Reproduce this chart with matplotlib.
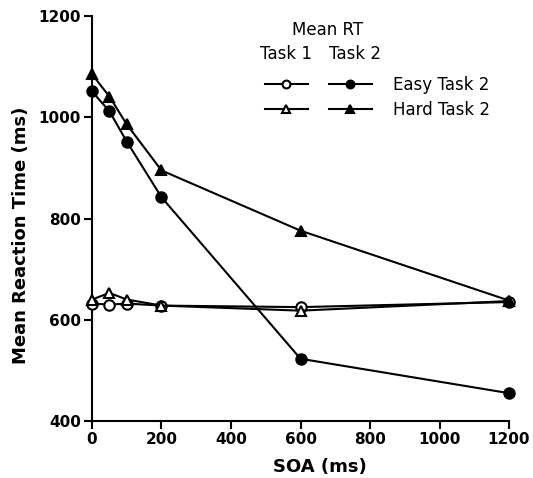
import matplotlib
matplotlib.use("Agg")
import matplotlib.pyplot as plt

plt.rcParams['font.family'] = ['DejaVu Sans']

# SOA values (ms)
soa = [0, 50, 100, 200, 600, 1200]

# Mean RT (ms)
task1_easy = [632, 630, 632, 628, 625, 635]
task1_hard = [640, 653, 640, 628, 618, 637]
task2_easy = [1051, 1012, 952, 842, 523, 455]
task2_hard = [1085, 1041, 986, 895, 776, 638]

xticks = [0, 200, 400, 600, 800, 1000, 1200]
yticks = [400, 600, 800, 1000, 1200]

fig = plt.figure(figsize=(5.33, 4.78), dpi=100)
ax = fig.add_axes([0.1726, 0.1192, 0.7824, 0.8473])

style = dict(color='black', lw=1.5, ms=7.5, mew=1.5, clip_on=False, zorder=3)
h1, = ax.plot(soa, task1_easy, marker='o', mfc='white', **style)
h2, = ax.plot(soa, task1_hard, marker='^', mfc='white', **style)
h3, = ax.plot(soa, task2_easy, marker='o', mfc='black', **style)
h4, = ax.plot(soa, task2_hard, marker='^', mfc='black', **style)

ax.set_xlim(0, 1200)
ax.set_ylim(400, 1200)
ax.set_xticks(xticks)
ax.set_yticks(yticks)
for s in ['top', 'right']:
    ax.spines[s].set_visible(False)
for s in ['left', 'bottom']:
    ax.spines[s].set_linewidth(1.5)
ax.tick_params(direction='out', length=6, width=1.5, labelsize=11, pad=2)
for lab in ax.get_xticklabels() + ax.get_yticklabels():
    lab.set_fontweight('bold')

ax.set_xlabel('SOA (ms)', fontsize=13, fontweight='bold', va='center')
ax.set_ylabel('Mean Reaction Time (ms)', fontsize=13, fontweight='bold',
              va='center', ha='center')
ax.xaxis.set_label_coords(0.547, -0.113)
ax.yaxis.set_label_coords(-0.170, 0.459)

# legend block
leg = ax.legend([h1, h2, h3, h4], ['', '', 'Easy Task 2', 'Hard Task 2'],
                ncol=2, frameon=False, fontsize=12, handlelength=2.6,
                handletextpad=1.25, columnspacing=0.0, labelspacing=0.45,
                markerscale=0.75, loc='upper left',
                bbox_to_anchor=(0.378, 0.89))
ax.text(0.565, 0.965, 'Mean RT', transform=ax.transAxes, fontsize=12,
        ha='center', va='center')
ax.text(0.465, 0.905, 'Task 1', transform=ax.transAxes, fontsize=12,
        ha='center', va='center')
ax.text(0.630, 0.905, 'Task 2', transform=ax.transAxes, fontsize=12,
        ha='center', va='center')

fig.savefig('out.png', dpi=100)
